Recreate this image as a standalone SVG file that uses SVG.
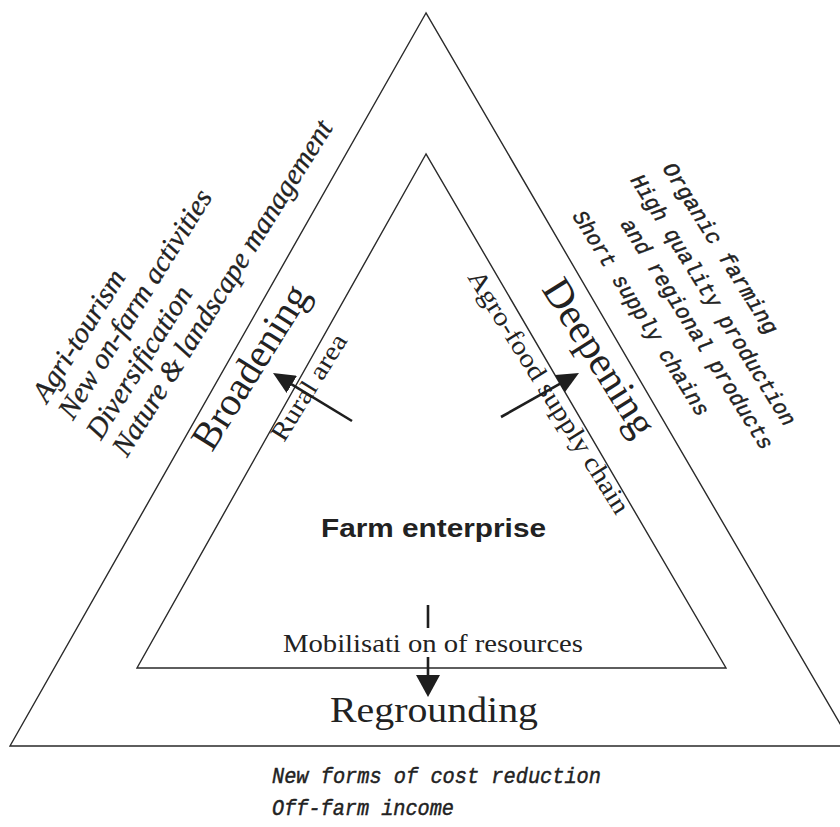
<svg xmlns="http://www.w3.org/2000/svg" width="840" height="827" viewBox="0 0 840 827">
<style>
.edge{fill:none;stroke:#2a2a2a;stroke-width:1.4;stroke-linejoin:miter}
.arrow{fill:none;stroke:#1e1e1e;stroke-width:2.6}
.serif{font-family:"Liberation Serif","Times New Roman",serif;fill:#222}
.ital{font-family:"Liberation Serif","Times New Roman",serif;font-style:italic;fill:#222;font-size:29px;stroke:#222;stroke-width:0.3}
.mono{font-family:"Liberation Mono","Courier New",monospace;font-style:italic;fill:#222;font-size:22px;stroke:#222;stroke-width:0.45}
.sans{font-family:"Liberation Sans",Arial,sans-serif;font-weight:bold;fill:#222}
</style>
<defs>
<marker id="headD" viewBox="0 0 22 20" refX="4" refY="10" markerWidth="22" markerHeight="20" markerUnits="userSpaceOnUse" orient="auto">
<path d="M0,0 L22,10 L0,20 Z" fill="#1e1e1e"/>
</marker>
<marker id="headV" viewBox="0 0 22 24" refX="4" refY="12" markerWidth="22" markerHeight="24" markerUnits="userSpaceOnUse" orient="auto">
<path d="M0,0 L22,12 L0,24 Z" fill="#1e1e1e"/>
</marker>
</defs>
<rect width="840" height="827" fill="#fff"/>

<g id="outer-triangle">
<polygon class="edge" points="426,13 10,746 853,746"/>
</g>

<g id="inner-triangle">
<polygon class="edge" points="426,154 137,668 726,668"/>
<text class="sans" x="321" y="537" font-size="26" textLength="225" lengthAdjust="spacingAndGlyphs">Farm enterprise</text>
</g>

<g id="broadening">
<text class="serif" font-size="40" transform="translate(212,453) rotate(-58)">Broadening</text>
<text class="serif" font-size="26" transform="translate(284,443) rotate(-58)" textLength="121" lengthAdjust="spacingAndGlyphs">Rural area</text>
<text class="ital" transform="translate(47,404) rotate(-58)">Agri-tourism</text>
<text class="ital" transform="translate(73,421) rotate(-58)">New on-farm activities</text>
<text class="ital" transform="translate(101,441) rotate(-58)">Diversification</text>
<text class="ital" transform="translate(127,458) rotate(-58)">Nature &amp; landscape management</text>
</g>

<g id="deepening">
<text class="serif" font-size="41" transform="translate(541,289) rotate(58)">Deepening</text>
<text class="serif" font-size="26" transform="translate(467,277) rotate(58)" textLength="282" lengthAdjust="spacingAndGlyphs">Agro-food supply chain</text>
<text class="mono" transform="translate(662,168) rotate(58)" textLength="198" lengthAdjust="spacingAndGlyphs">Organic farming</text>
<text class="mono" transform="translate(630,180) rotate(58)" textLength="292" lengthAdjust="spacingAndGlyphs">High quality production</text>
<text class="mono" transform="translate(620,224) rotate(58)" textLength="268" lengthAdjust="spacingAndGlyphs">and regional products</text>
<text class="mono" transform="translate(572,216) rotate(58)" textLength="238" lengthAdjust="spacingAndGlyphs">Short supply chains</text>
</g>

<g id="regrounding">
<text class="serif" x="283" y="652" font-size="25" textLength="300" lengthAdjust="spacingAndGlyphs">Mobilisati on of resources</text>
<text class="serif" x="330" y="722" font-size="36" textLength="208" lengthAdjust="spacingAndGlyphs">Regrounding</text>
<text class="mono" x="272" y="783" textLength="329" lengthAdjust="spacingAndGlyphs">New forms of cost reduction</text>
<text class="mono" x="272" y="815" textLength="182" lengthAdjust="spacingAndGlyphs">Off-farm income</text>
</g>

<g id="connectors">
<line class="arrow" x1="352" y1="421" x2="288.4" y2="382.3" marker-end="url(#headD)"/>
<line class="arrow" x1="501" y1="417" x2="563.3" y2="381.8" marker-end="url(#headD)"/>
<path class="arrow" d="M428,605 V628 M428,657 V679" marker-end="url(#headV)"/>
</g>
</svg>
